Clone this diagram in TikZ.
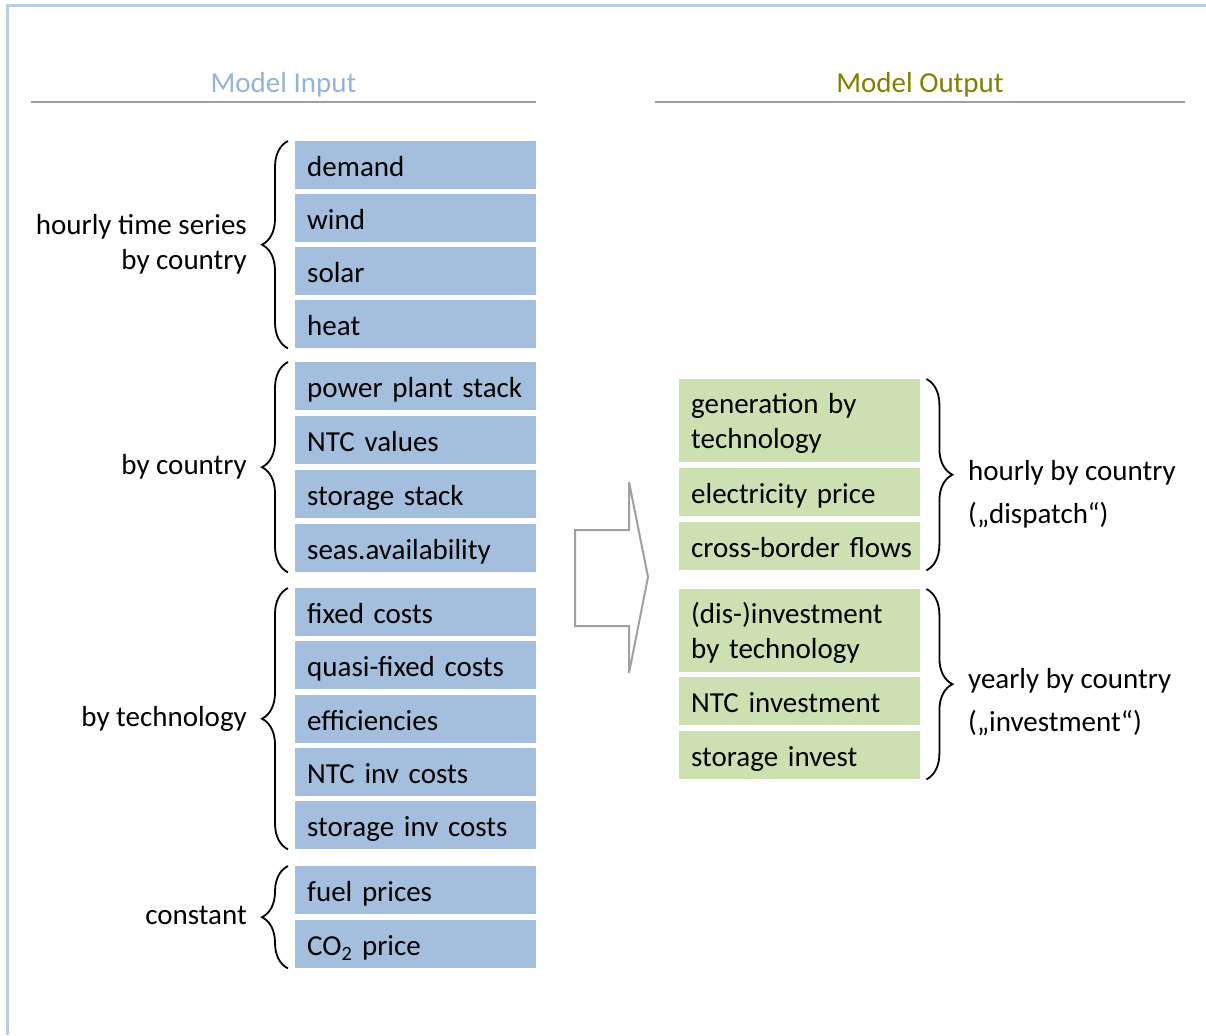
\documentclass[tikz,border=0pt]{standalone}
\usepackage{fontspec}
\setmainfont{Carlito}
\usetikzlibrary{decorations.pathreplacing}

\definecolor{inblue}{RGB}{164,190,221}
\definecolor{outgreen}{RGB}{205,224,178}
\definecolor{titleblue}{RGB}{149,179,215}
\definecolor{titleolive}{RGB}{128,128,0}
\definecolor{framecol}{RGB}{187,206,230}
\definecolor{rulegrey}{RGB}{160,160,160}

\tikzset{
  cell/.style={anchor=north west, inner xsep=12pt, inner ysep=0pt, text width=217pt, align=left, minimum height=48pt},
  inbox/.style={cell, fill=inblue, text height=25pt, text depth=2pt},
  outbox/.style={cell, fill=outgreen, text height=25pt, text depth=2pt},
  outtall/.style={cell, fill=outgreen, minimum height=83pt, text height=26pt, text depth=40pt},
  curly/.style={decorate, decoration={brace, amplitude=26pt}, line width=1.8pt},
  titlerule/.style={rulegrey, line width=2.5pt},
  grouplabel/.style={inner sep=0pt},
}

\begin{document}
\begin{tikzpicture}[x=1pt, y=-1pt, font=\fontsize{29}{35}\selectfont]
                \useasboundingbox (0,0) rectangle (1206,1035);
                \draw[framecol, line width=3pt] (1206,6) -- (7,6) -- (7,1035);

                % titles
                \node[titleblue, anchor=base] (intitle) at (283.5,93) {Model Input};
                \node[titleolive, anchor=base] (outtitle) at (920,93) {Model Output};
                \draw[titlerule] (31,102) -- (536,102);
                \draw[titlerule] (655,102) -- (1185,102);

                % input boxes
                \node[inbox] (demand) at (295,141) {demand};
                \node[inbox] (wind) at (295,194) {wind};
                \node[inbox] (solar) at (295,247) {solar};
                \node[inbox] (heat) at (295,300) {heat};

                \node[inbox] (plants) at (295,362) {power plant stack};
                \node[inbox] (ntc) at (295,416) {NTC values};
                \node[inbox] (storage) at (295,470) {storage stack};
                \node[inbox] (avail) at (295,524) {seas.availability};

                \node[inbox] (fixed) at (295,588) {fixed costs};
                \node[inbox] (quasi) at (295,641) {quasi-fixed costs};
                \node[inbox] (eff) at (295,695) {efficiencies};
                \node[inbox] (ntcinv) at (295,748) {NTC inv costs};
                \node[inbox] (storinv) at (295,801) {storage inv costs};

                \node[inbox] (fuel) at (295,866) {fuel prices};
                \node[inbox] (co2) at (295,920) {CO\textsubscript{2} price};

                % output boxes
                \node[outtall] (gen) at (679,379) {generation by\\technology};
                \node[outbox] (price) at (679,468) {electricity price};
                \node[outbox] (flows) at (679,522) {\mbox{cross-border flows}};

                \node[outtall] (disinv) at (679,589) {(dis-)investment\\by technology};
                \node[outbox] (ntcout) at (679,677) {NTC investment};
                \node[outbox] (storout) at (679,731) {storage invest};

                % braces
                \draw[curly] ([xshift=-7pt]heat.south west) -- ([xshift=-7pt]demand.north west);
                \draw[curly] ([xshift=-7pt]avail.south west) -- ([xshift=-7pt]plants.north west);
                \draw[curly] ([xshift=-7pt]storinv.south west) -- ([xshift=-7pt]fixed.north west);
                \draw[curly] ([xshift=-7pt]co2.south west) -- ([xshift=-7pt]fuel.north west);
                \draw[curly] ([xshift=6pt]gen.north east) -- ([xshift=6pt]flows.south east);
                \draw[curly] ([xshift=6pt]disinv.north east) -- ([xshift=6pt]storout.south east);

                % group labels
                \node[grouplabel, anchor=east, align=right] (series) at (247,244) {hourly time series\\by country};
                \node[grouplabel, anchor=east] (country) at (247,467) {by country};
                \node[grouplabel, anchor=east] (tech) at (247,719) {by technology};
                \node[grouplabel, anchor=east] (const) at (247,915) {constant};
                \node[grouplabel, anchor=west, align=left] (dispatch) at (968,494) {hourly by country\\[8pt](„dispatch“)};
                \node[grouplabel, anchor=west, align=left] (invest) at (968,702) {yearly by country\\[8pt](„investment“)};

                % block arrow
                \draw[rulegrey, line width=2pt] (575,530) -- (629,530) -- (629,482) -- (648,577)
                    -- (629,673) -- (629,626) -- (575,626) -- cycle;
\end{tikzpicture}
\end{document}
